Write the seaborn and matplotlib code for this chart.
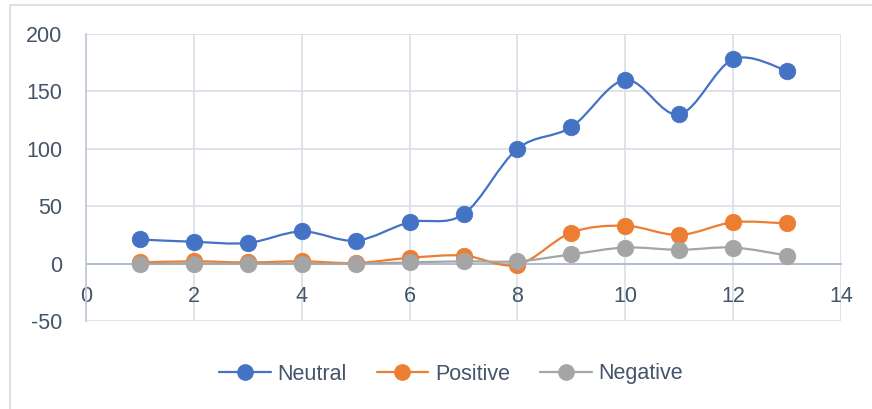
import numpy as np
import pandas as pd
import seaborn as sns
import matplotlib
matplotlib.use("Agg")
import matplotlib.pyplot as plt
from matplotlib.path import Path
from matplotlib.patches import PathPatch, Rectangle
from matplotlib.lines import Line2D

# ---- data ----
x_vals = [1, 2, 3, 4, 5, 6, 7, 8, 9, 10, 11, 12, 13]
neutral = [21, 19, 18, 28, 20, 36, 43, 100, 119, 160, 130, 178, 168]
positive = [1, 2, 1, 2, 0.5, 5, 7, -1, 27, 33, 25, 36, 35]
negative = [0, 0, 0, 0, 0, 1, 2, 2, 8, 14, 12, 14, 7]
series_names = ["Neutral", "Positive", "Negative"]
x_ticks = [0, 2, 4, 6, 8, 10, 12, 14]
y_ticks = [-50, 0, 50, 100, 150, 200]

colors = {"Neutral": "#4472C4", "Positive": "#ED7D31", "Negative": "#A5A5A5"}
text_color = "#44546A"

df = pd.DataFrame({
    "x": x_vals * 3,
    "value": neutral + positive + negative,
    "series": [s for s in series_names for _ in x_vals],
})

sns.set_theme(style="white")
plt.rcParams["font.family"] = ["Liberation Sans", "DejaVu Sans"]

fig = plt.figure(figsize=(8.72, 4.09), dpi=100)
ax = fig.add_axes([86 / 872, 1 - 321 / 409, (841 - 86) / 872, (321 - 34) / 409])

# outer chart border
fig.patches.append(Rectangle((10 / 872, -0.05), 1.1, 1 - 5 / 409 + 0.05,
                             transform=fig.transFigure, fill=False,
                             edgecolor="#D9D9D9", lw=1.2, zorder=0))


def smooth_path(xs, ys):
    pts = np.column_stack([xs, ys]).astype(float)
    n = len(pts)
    verts = [pts[0]]
    codes = [Path.MOVETO]
    for i in range(n - 1):
        p0 = pts[i - 1] if i > 0 else pts[i]
        p1 = pts[i]
        p2 = pts[i + 1]
        p3 = pts[i + 2] if i + 2 < n else pts[i + 1]
        c1 = p1 + (p2 - p0) / 6.0
        c2 = p2 - (p3 - p1) / 6.0
        verts += [c1, c2, p2]
        codes += [Path.CURVE4] * 3
    return Path(verts, codes)


for k, name in enumerate(series_names):
    sub = df[df["series"] == name]
    patch = PathPatch(smooth_path(sub["x"].values, sub["value"].values),
                      facecolor="none", edgecolor=colors[name], lw=1.6,
                      zorder=3 + 2 * k, capstyle="round", joinstyle="round")
    ax.add_patch(patch)
    sns.scatterplot(data=sub, x="x", y="value", color=colors[name], s=140,
                    edgecolor=colors[name], linewidth=0.6, ax=ax,
                    zorder=4 + 2 * k, legend=False)

ax.set_xlim(0, 14)
ax.set_ylim(-50, 200)
ax.set_xticks(x_ticks)
ax.set_yticks(y_ticks)
ax.set_xticklabels([str(t) for t in x_ticks])
ax.set_yticklabels([str(t) for t in y_ticks])
ax.set_xlabel("")
ax.set_ylabel("")

ax.grid(True, color="#DCE1E8", lw=1.3, zorder=0)
ax.set_axisbelow(True)
for s in ["top", "right"]:
    ax.spines[s].set_visible(False)
ax.spines["left"].set_color("#C3CAD6")
ax.spines["left"].set_linewidth(1.3)
ax.spines["bottom"].set_position(("data", 0))
ax.spines["bottom"].set_color("#B4BDCB")
ax.spines["bottom"].set_linewidth(1.5)
ax.spines["bottom"].set_zorder(2)

ax.tick_params(axis="x", length=0, pad=16, labelsize=15.5, labelcolor=text_color)
ax.tick_params(axis="y", length=0, pad=17, labelsize=15.5, labelcolor=text_color)

handles = [Line2D([0], [0], color=colors[n], lw=1.6, marker="o", markersize=11,
                  markerfacecolor=colors[n], markeredgecolor=colors[n])
           for n in series_names]
leg = fig.legend(handles, series_names, loc="center", bbox_to_anchor=(0.517, 1 - 374 / 409),
                 ncol=3, frameon=False, fontsize=15.5, handlelength=2.4,
                 columnspacing=1.4, handletextpad=0.3)
for t in leg.get_texts():
    t.set_color(text_color)

fig.savefig("out.png", dpi=100)
